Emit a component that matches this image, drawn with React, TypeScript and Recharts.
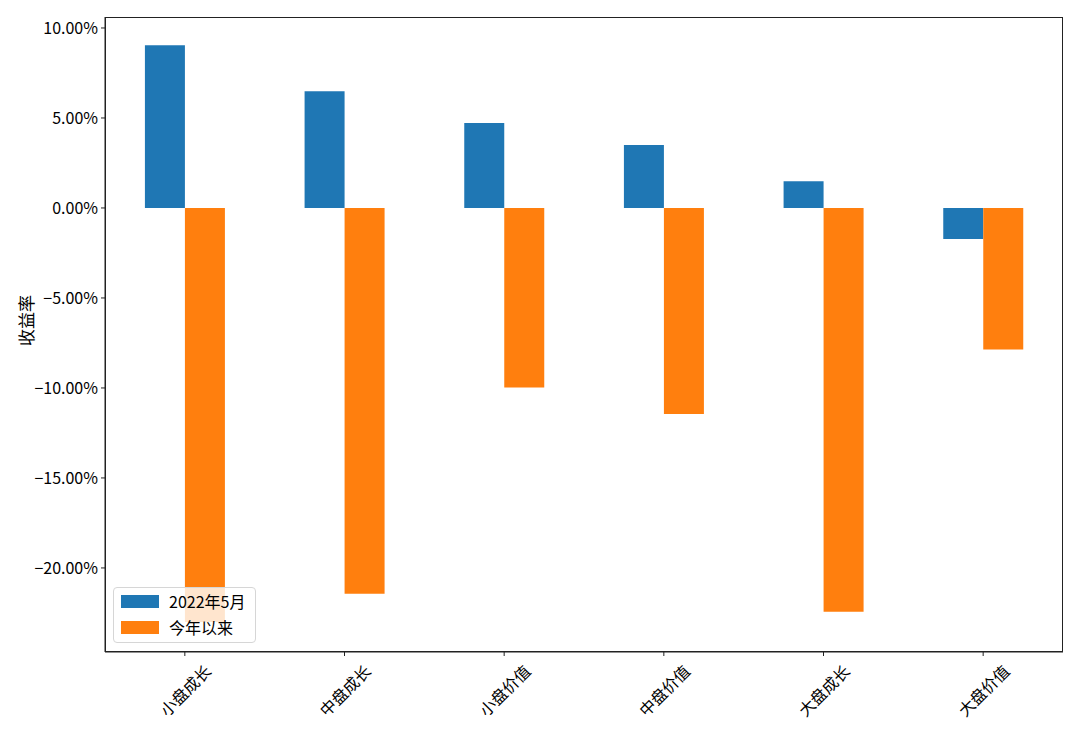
import React from 'react'
import { BarChart, Bar, XAxis, YAxis, Legend } from 'recharts'

const categories = ['小盘成长', '中盘成长', '小盘价值', '中盘价值', '大盘成长', '大盘价值']
const may2022 = [9.04, 6.48, 4.72, 3.5, 1.48, -1.72]
const sinceYearStart = [-23.0, -21.43, -9.98, -11.44, -22.44, -7.87]
const yTicks = [-20, -15, -10, -5, 0, 5, 10]

const SERIES = [
  { key: 'may', name: '2022年5月', color: '#1f77b4' },
  { key: 'ytd', name: '今年以来', color: '#ff7f0e' },
]

const FONT = '"Noto Sans CJK SC", "DejaVu Sans", sans-serif'
const AXIS = '#222'

const data = categories.map((c, i) => ({ name: c, may: may2022[i], ytd: sinceYearStart[i] }))

const fmtPct = (v: number) => `${v < 0 ? '\u2212' : ''}${Math.abs(v).toFixed(2)}%`

const XTick = (props: any) => {
  const { x, y, payload } = props
  return (
    <text
      x={x}
      y={y + 32}
      transform={`rotate(-45, ${x}, ${y + 32})`}
      textAnchor="middle"
      dominantBaseline="central"
      fontSize={16}
      fontFamily={FONT}
      fill="#000"
    >
      {payload.value}
    </text>
  )
}

const LegendBox = () => (
  <div
    style={{
      background: 'rgba(255,255,255,0.8)',
      border: '1px solid #d6d6d6',
      borderRadius: 4,
      padding: '0 10px 2px 7px',
      fontFamily: FONT,
      fontSize: 16,
      color: '#000',
    }}
  >
    {SERIES.map(s => (
      <div key={s.key} style={{ display: 'flex', alignItems: 'center', height: 26 }}>
        <span style={{ display: 'inline-block', width: 38, height: 13, background: s.color, marginRight: 10 }} />
        <span>{s.name}</span>
      </div>
    ))}
  </div>
)

export default function App() {
  return (
    <div style={{ position: 'absolute', left: 0, top: 0, width: 1080, height: 736, background: '#fff' }}>
      <BarChart
        width={1080}
        height={736}
        data={data}
        margin={{ top: 17, right: 17, left: 25, bottom: 0 }}
        barCategoryGap="25%"
        barGap={0}
      >
        <XAxis
          dataKey="name"
          height={84}
          tick={<XTick />}
          tickSize={4}
          axisLine={{ stroke: AXIS }}
          tickLine={{ stroke: AXIS }}
          interval={0}
        />
        <YAxis
          width={80}
          domain={[-24.67, 10.61]}
          ticks={yTicks}
          allowDataOverflow
          tickFormatter={fmtPct}
          tickSize={4}
          tickMargin={3}
          tick={{ fontSize: 16, fontFamily: FONT, fill: '#000' }}
          axisLine={{ stroke: AXIS }}
          tickLine={{ stroke: AXIS }}
          label={(p: any) => {
            const vb = p.viewBox
            const cx = 25
            const cy = vb.y + vb.height / 2 - 14
            return (
              <text x={cx} y={cy} transform={`rotate(-90, ${cx}, ${cy})`} textAnchor="middle" dominantBaseline="central" fontSize={17} fontFamily={FONT} fill="#000">
                收益率
              </text>
            )
          }}
        />
        {SERIES.map(s => (
          <Bar key={s.key} dataKey={s.key} name={s.name} fill={s.color} isAnimationActive={false} />
        ))}
        <Legend
          layout="vertical"
          align="center"
          verticalAlign="middle"
          content={<LegendBox />}
          wrapperStyle={{ left: 113, top: 587, width: 'auto' }}
        />
      </BarChart>
      {/* axes frame (top/right spines) */}
      <div
        style={{
          position: 'absolute',
          left: 105,
          top: 17,
          width: 958,
          height: 635,
          boxSizing: 'border-box',
          border: `1px solid ${AXIS}`,
          pointerEvents: 'none',
        }}
      />
    </div>
  )
}
